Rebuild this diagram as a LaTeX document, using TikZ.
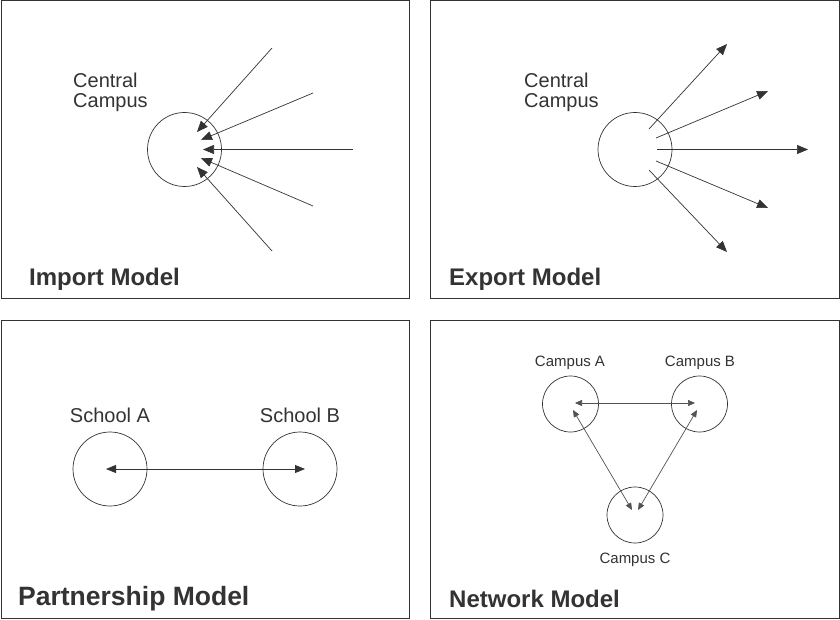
\documentclass[tikz,border=0pt]{standalone}
\usepackage{fontspec}
\setmainfont{Liberation Sans}
\usetikzlibrary{arrows.meta}
\definecolor{ink}{HTML}{333333}
\begin{document}
\begin{tikzpicture}[x=1pt,y=-1pt,
  panel/.style={draw=ink,line width=1pt},
  ring/.style={circle,draw=ink,line width=0.7pt,inner sep=0pt},
  bigring/.style={ring,minimum size=74pt},
  smallring/.style={ring,minimum size=56pt},
  lbl/.style={text=ink,font=\fontsize{20}{23}\selectfont,anchor=base west,inner sep=0pt,align=left},
  title/.style={text=ink,font=\fontsize{24}{28}\selectfont\bfseries,anchor=base west,inner sep=0pt},
  clbl/.style={text=ink,font=\fontsize{15}{18}\selectfont,anchor=base,inner sep=0pt},
  arr/.style={draw=ink,line width=0.7pt,-{Triangle[length=11pt,width=9pt]}},
  darr/.style={draw=ink!85,line width=0.7pt,{Triangle[length=7pt,width=6pt]}-{Triangle[length=7pt,width=6pt]}},
  parr/.style={draw=ink,line width=0.8pt,{Triangle[length=10pt,width=8pt]}-{Triangle[length=10pt,width=8pt]}}]
\path[use as bounding box] (0,0) rectangle (840,620);
\fill[white] (0,0) rectangle (840,620);
% panels
\draw[panel] (1,1) rectangle (409,298);
\draw[panel] (430,1) rectangle (839,298);
\draw[panel] (1,320) rectangle (409,618);
\draw[panel] (430,320) rectangle (839,618);

% Import model
\node[bigring] (imp) at (184.5,149.5) {};
\node[lbl] (impl1) at (73,88) {Central};
\node[lbl] (impl2) at (73,108) {Campus};
\node[title] (impt) at (29,285) {Import Model};
\coordinate (i1s) at (272,48);  \coordinate (i1t) at (197,132);
\coordinate (i2s) at (313,93);  \coordinate (i2t) at (201,140);
\coordinate (i3s) at (353,149.5); \coordinate (i3t) at (203,149.5);
\coordinate (i4s) at (313,206); \coordinate (i4t) at (201,158);
\coordinate (i5s) at (272,251); \coordinate (i5t) at (197,167);
\foreach \k in {1,...,5} {\draw[arr] (i\k s) -- (i\k t);}

% Export model
\node[bigring] (exp) at (635,149.5) {};
\node[lbl] (expl1) at (524,88) {Central};
\node[lbl] (expl2) at (524,108) {Campus};
\node[title] (expt) at (449,285) {Export Model};
\coordinate (e1s) at (649,129);  \coordinate (e1t) at (727,44);
\coordinate (e2s) at (656,138);  \coordinate (e2t) at (768,91);
\coordinate (e3s) at (657,149.5); \coordinate (e3t) at (808,149.5);
\coordinate (e4s) at (656,161);  \coordinate (e4t) at (768,208);
\coordinate (e5s) at (649,170);  \coordinate (e5t) at (727,252);
\foreach \k in {1,...,5} {\draw[arr] (e\k s) -- (e\k t);}

% Partnership model
\node[bigring] (sa) at (110,469) {};
\node[bigring] (sb) at (300,469) {};
\node[lbl,anchor=base] (sal) at (110,422) {School A};
\node[lbl,anchor=base] (sbl) at (300,422) {School B};
\node[title,font=\fontsize{26.5}{30}\selectfont\bfseries] (pt) at (18,605) {Partnership Model};
\coordinate (pa) at (106,469);
\coordinate (pb) at (305,469);
\draw[parr] (pa) -- (pb);

% Network model
\node[smallring] (ca) at (570.5,404) {};
\node[smallring] (cb) at (699.5,404) {};
\node[smallring] (cc) at (635,515) {};
\node[clbl] (cal) at (570,366) {Campus A};
\node[clbl] (cbl) at (700,366) {Campus B};
\node[clbl] (ccl) at (635,563) {Campus C};
\node[title] (nt) at (449,607) {Network Model};
\coordinate (nab1) at (575,403); \coordinate (nab2) at (695,403);
\coordinate (nac1) at (573,410); \coordinate (nac2) at (632,510);
\coordinate (nbc1) at (697,410); \coordinate (nbc2) at (638,510);
\draw[darr] (nab1) -- (nab2);
\draw[darr] (nac1) -- (nac2);
\draw[darr] (nbc1) -- (nbc2);
\end{tikzpicture}
\end{document}
